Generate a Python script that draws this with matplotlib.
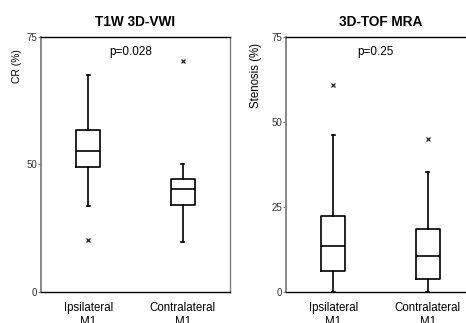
import matplotlib
matplotlib.use("Agg")
import matplotlib.pyplot as plt
import numpy as np

plt.rcParams['font.family'] = ['Liberation Sans', 'DejaVu Sans']

groups = ["Ipsilateral\nM1", "Contralateral\nM1"]

# T1W 3D-VWI, CR (%)
cr_whislo = [33.6, 19.7]
cr_q1 = [48.9, 34.3]
cr_med = [52.6, 40.2]
cr_q3 = [56.8, 44.5]
cr_whishi = [67.6, 50.0]
cr_fliers = [[20.2], [70.2]]

# 3D-TOF MRA, Stenosis (%)
st_whislo = [0.0, 0.0]
st_q1 = [6.3, 3.7]
st_med = [13.6, 10.6]
st_q3 = [22.4, 18.5]
st_whishi = [46.2, 35.4]
st_fliers = [[60.9], [44.9]]


def make_stats(lo, q1, med, q3, hi, fl):
    return [dict(whislo=lo[i], q1=q1[i], med=med[i], q3=q3[i], whishi=hi[i],
                 fliers=fl[i]) for i in range(len(lo))]


# left panel axis: 0-50 and 50-75 get the same height
def fwd(y):
    y = np.asarray(y, dtype=float)
    return np.where(y <= 50, y / 50.0, 1 + (y - 50) / 25.0)


def inv(t):
    t = np.asarray(t, dtype=float)
    return np.where(t <= 1, 50.0 * t, 50 + 25.0 * (t - 1))


fig = plt.figure(figsize=(4.66, 3.23), dpi=100)
ax1 = fig.add_axes([0.088, 0.096, 0.4056, 0.7895])
ax2 = fig.add_axes([0.6137, 0.096, 0.4056, 0.7895])

line = dict(color="black", linewidth=1.2)
flier = dict(marker="x", markersize=3.5, markeredgecolor="#222222", markeredgewidth=0.9)

panels = [
    (ax1, make_stats(cr_whislo, cr_q1, cr_med, cr_q3, cr_whishi, cr_fliers),
     "T1W 3D-VWI", "CR (%)", "p=0.028", [0, 50, 75]),
    (ax2, make_stats(st_whislo, st_q1, st_med, st_q3, st_whishi, st_fliers),
     "3D-TOF MRA", "Stenosis (%)", "p=0.25", [0, 25, 50, 75]),
]

for ax, stats, title, ylab, ptxt, yt in panels:
    ax.bxp(stats, positions=[1, 2], widths=0.25, capwidths=0.035,
           boxprops=line, whiskerprops=line, capprops=line,
           medianprops=line, flierprops=flier, showfliers=True)
    ax.set_xlim(0.5, 2.5)
    ax.set_xticks([1, 2])
    ax.set_xticklabels(groups, fontsize=8.3)
    ax.tick_params(axis="x", length=0, pad=7)
    ax.set_yticks(yt)
    ax.set_yticklabels([str(v) for v in yt], fontsize=7, color="#333333")
    ax.tick_params(axis="y", length=2, pad=1, color="#777777")
    ax.spines["left"].set_color("#808080")
    ax.spines["right"].set_color("#808080")
    ax.spines["left"].set_linewidth(1.3)
    ax.spines["right"].set_linewidth(1.0)
    ax.spines["top"].set_linewidth(1.0)
    ax.spines["bottom"].set_linewidth(1.0)
    ax.set_title(title, fontsize=9.8, fontweight="bold", pad=8)
    ax.text(0.475, 0.943, ptxt, transform=ax.transAxes, ha="center", va="center",
            fontsize=8.5)

ax1.set_yscale("function", functions=(fwd, inv))
ax1.set_ylim(0, 75)
ax1.set_yticks([0, 50, 75])
ax1.set_yticklabels(["0", "50", "75"], fontsize=7, color="#333333")
ax2.set_ylim(0, 75)

fig.text(17 / 466, 1 - 66 / 323, "CR (%)", rotation=90, ha="center", va="center",
         fontsize=7.4)
fig.text(256 / 466, 1 - 75 / 323, "Stenosis (%)", rotation=90, ha="center",
         va="center", fontsize=8.3)

fig.savefig("out.png", dpi=100)
